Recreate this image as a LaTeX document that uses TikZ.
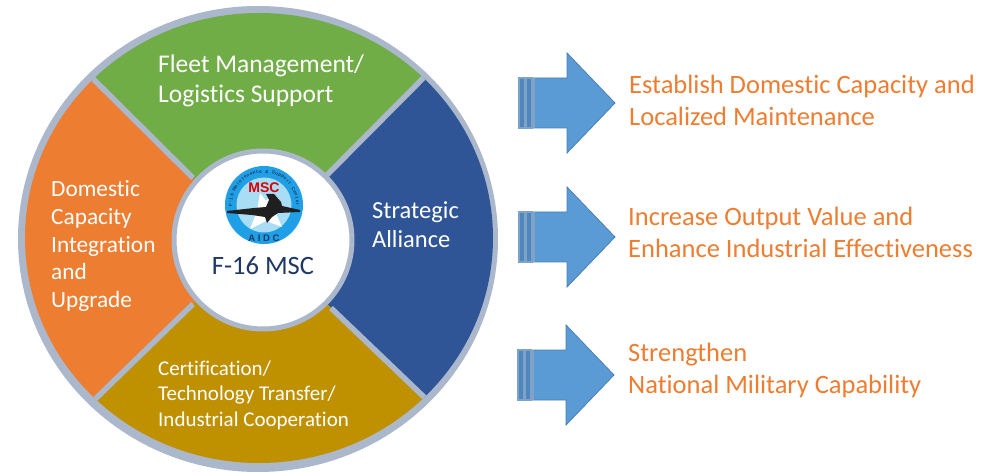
\documentclass[tikz,border=0pt]{standalone}
\usepackage{fontspec}
\setmainfont{Carlito}[Ligatures=NoCommon]
\newfontfamily\logofont{Liberation Sans}
\definecolor{ringgrey}{HTML}{ABB7CB}
\definecolor{fgreen}{HTML}{70AD47}
\definecolor{forange}{HTML}{ED7D31}
\definecolor{fblue}{HTML}{2F5597}
\definecolor{fgold}{HTML}{BF9000}
\definecolor{arrowblue}{HTML}{5B9BD5}
\definecolor{arrowedge}{HTML}{4A7FB5}
\definecolor{stripeblue}{HTML}{4F86BE}
\definecolor{stripeedge}{HTML}{7FA3C7}
\definecolor{navytext}{HTML}{1F3864}
\definecolor{logoblue}{HTML}{1FA0E6}
\definecolor{logolight}{HTML}{A9DCF5}
\tikzset{
  x=1pt,y=-1pt,
  seclabel/.style={text=white,align=left,anchor=west,inner sep=0pt},
  outcome/.style={text=forange,align=left,anchor=west,inner sep=0pt,font=\fontsize{26.5}{32.5}\selectfont},
  divider/.style={draw=ringgrey,line width=5.5pt},
  ringletter/.style={inner sep=0pt,text=navytext,font=\logofont\bfseries\fontsize{4.6}{4.6}\selectfont},
}
\newcommand{\bigarrow}[2]{%
  \begin{scope}[shift={(#1,#2)}]
    \path[fill=arrowblue,draw=arrowedge,line width=0.8pt] (0,-25)--(48,-25)--(48,-50)--(96,0)--(48,50)--(48,25)--(0,25)--cycle;
    \path[fill=stripeblue,draw=stripeedge,line width=1.1pt] (0,-25) rectangle (6,25);
    \path[fill=stripeblue,draw=stripeedge,line width=1.1pt] (7,-25) rectangle (13,25);
    \path[draw=stripeedge,line width=1.1pt] (15,-25)--(15,25);
  \end{scope}}
\begin{document}
\begin{tikzpicture}
\useasboundingbox (0,0) rectangle (986,473);
\fill[white] (0,0) rectangle (986,473);
\coordinate (hc) at (263,240);
\coordinate (tli) at (193,178);  \coordinate (tlo) at (50,36);
\coordinate (tri) at (327,175);  \coordinate (tro) at (470,31);
\coordinate (bri) at (331,308);  \coordinate (bro) at (470,441);
\coordinate (bli) at (193,304);  \coordinate (blo) at (50,443);
% ring
\fill[ringgrey] (258,239) ellipse [x radius=240,y radius=233];
\begin{scope}
  \clip (259,238) ellipse [x radius=234,y radius=225];
  \fill[fgreen] (hc)--(tli)--(tlo)--(50,-20)--(470,-20)--(tro)--(tri)--cycle;
  \fill[forange] (hc)--(tli)--(tlo)--(0,36)--(0,443)--(blo)--(bli)--cycle;
  \fill[fblue] (hc)--(tri)--(tro)--(520,31)--(520,441)--(bro)--(bri)--cycle;
  \fill[fgold] (hc)--(bli)--(blo)--(50,480)--(470,480)--(bro)--(bri)--cycle;
  \draw[divider] (tli)--(tlo);
  \draw[divider] (tri)--(tro);
  \draw[divider] (bri)--(bro);
  \draw[divider] (bli)--(blo);
\end{scope}
% hub
\node[circle,fill=white,draw=ringgrey,line width=5pt,minimum size=178pt,inner sep=0pt] (hub) at (hc) {};
% logo
\begin{scope}[shift={(264,205)}]
  \fill[logoblue] (0,0) circle (39);
  \fill[logolight] (0,0) circle (27.5);
  \fill[white] (-14,24)--(-7,6)--(-4,-12)--(2,-4)--(8,-12)--(10,4)--(18,22)--(2,16)--cycle;
  \fill[black!88] (-37,6)--(-10,3)--(2,2)--(5,-5)--(2,-11)--(10,-11)--(17,-3)--(18,1)--(36,5)--(36,7)--(14,8)--(8,12)--(3,18)--(1,12)--(-12,10)--(-37,8)--cycle;
  \node[font=\logofont\bfseries\fontsize{14}{14}\selectfont,text={red!85!black},inner sep=0pt] (logomsc) at (0,-17) {MSC};
  \node[font=\logofont\bfseries\fontsize{9.5}{9.5}\selectfont,text=navytext,inner sep=0pt] (logoaidc) at (0,33) {A I D C};
  \foreach \ch [count=\i] in {F,-,1,6,{},M,a,i,n,t,e,n,a,n,c,e,{},\&,{},S,u,p,p,o,r,t,{},C,e,n,t,e,r}
    \node[ringletter,name=ringch\i,rotate={90-(\i-1)*5.6}] at ({33.5*cos(180-(\i-1)*5.6)},{-33.5*sin(180-(\i-1)*5.6)}) {\ch};
\end{scope}
\node[text=navytext,font=\fontsize{26.5}{26.5}\selectfont,inner sep=0pt] (hubtext) at (263,266) {F-16 MSC};
% sector labels
\node[seclabel,font=\fontsize{25.5}{30}\selectfont] (fleet) at (158,81) {Fleet Management/\\Logistics Support};
\node[seclabel,font=\fontsize{23.3}{27.7}\selectfont] (domestic) at (51,246) {Domestic\\Capacity\\Integration\\and\\Upgrade};
\node[seclabel,font=\fontsize{24.5}{29}\selectfont] (strategic) at (372,225) {Strategic\\Alliance};
\node[seclabel,font=\fontsize{21}{25.5}\selectfont] (cert) at (158,395) {Certification/\\Technology Transfer/\\Industrial Cooperation};
% arrows
\bigarrow{519}{103}
\bigarrow{519}{237}
\bigarrow{518}{375}
% outcomes
\node[outcome] (o1) at (629,100.5) {Establish Domestic Capacity and\\Localized Maintenance};
\node[outcome] (o2) at (628,232.5) {Increase Output Value and\\Enhance Industrial Effectiveness};
\node[outcome] (o3) at (628,370.5) {Strengthen\\National Military Capability};
\end{tikzpicture}
\end{document}
